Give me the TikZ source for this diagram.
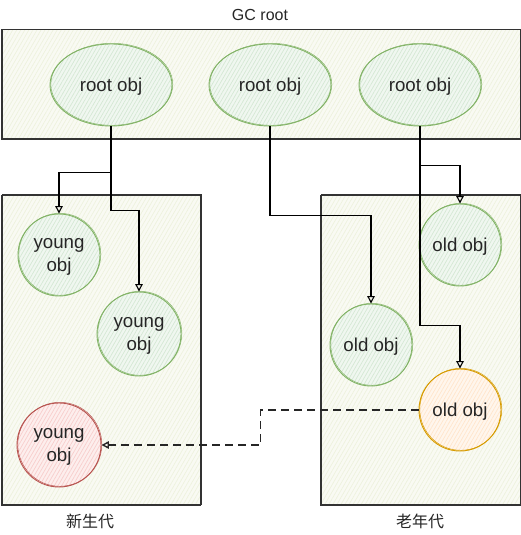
\documentclass[tikz,border=0pt]{standalone}
\usepackage{fontspec}
\setmainfont{Liberation Sans}
\newfontfamily\cjk{Noto Sans CJK SC}
\usetikzlibrary{shapes.geometric,arrows.meta,patterns.meta}
\definecolor{gstroke}{HTML}{82B366}
\definecolor{gfill}{HTML}{D5E8D4}
\definecolor{rstroke}{HTML}{B85450}
\definecolor{rfill}{HTML}{F8CECC}
\definecolor{ostroke}{HTML}{D79B00}
\definecolor{ofill}{HTML}{FFE6CC}
\definecolor{boxfill}{HTML}{F9FAF3}
\definecolor{boxhatch}{HTML}{EEF2DE}
\tikzset{
  hatch/.style={preaction={fill=#1!35!white},pattern={Lines[angle=60,distance=3.2pt,line width=0.7pt]},pattern color=#1},
  sketch/.style={postaction={draw,transform canvas={shift={(0.8pt,0.7pt)}},line width=0.5pt}},
  area/.style={draw=black!80,line width=1pt,preaction={fill=boxfill},pattern={Lines[angle=60,distance=3.5pt,line width=0.7pt]},pattern color=boxhatch,sketch},
  objtext/.style={font=\fontsize{18.7}{23}\selectfont,align=center,text=black!85,inner sep=0pt,text depth=0pt},
  greenobj/.style={circle,draw=gstroke,line width=0.9pt,hatch=gfill,sketch,objtext},
  redobj/.style={circle,draw=rstroke,line width=0.9pt,hatch=rfill,sketch,objtext},
  orangeobj/.style={circle,draw=ostroke,line width=0.9pt,hatch=ofill,sketch,objtext},
  rootobj/.style={ellipse,draw=gstroke,line width=0.9pt,hatch=gfill,sketch,objtext,minimum width=122pt,minimum height=82pt},
  lbl/.style={font=\fontsize{16}{18}\selectfont,text=black!85,inner sep=0pt},
  arr/.style={draw=black,line width=1.1pt,-{Triangle[open,length=7.5pt,width=7.5pt]}},
  dasharr/.style={draw=black!85,line width=1.4pt,dash pattern=on 8pt off 5pt,-{Triangle[open,length=7.5pt,width=7.5pt]}}
}
\begin{document}
\begin{tikzpicture}[x=1pt,y=-1pt]
\useasboundingbox (0,0) rectangle (521,535);
\node[lbl] (gc) at (260,15) {GC root};
\node[area,minimum width=519pt,minimum height=109pt,inner sep=0pt] (top) at (260.5,84.5) {};
\node[area,minimum width=199pt,minimum height=310pt,inner sep=0pt] (young) at (100.5,350) {};
\node[area,minimum width=200pt,minimum height=310pt,inner sep=0pt] (old) at (420,350) {};
\node[lbl] (ylbl) at (90,521) {\cjk 新生代};
\node[lbl] (olbl) at (420,521) {\cjk 老年代};

\node[rootobj] (r1) at (111,85) {root obj};
\node[rootobj] (r2) at (270,85) {root obj};
\node[rootobj] (r3) at (420,85) {root obj};

\node[greenobj,minimum size=82pt] (y1) at (59,255) {young\\obj};
\node[greenobj,minimum size=84pt] (y2) at (139,334) {young\\obj};
\node[redobj,minimum size=84pt] (yr) at (59,445) {young\\obj};
\node[greenobj,minimum size=82pt] (o1) at (460,245) {old obj};
\node[greenobj,minimum size=82pt] (o2) at (371,345) {old obj};
\node[orangeobj,minimum size=82pt] (oo) at (460,410) {old obj};

\draw[arr] (r1.south) -- ++(0,46) -| (y1.north);
\draw[arr] (r1.south) -- ++(0,84) -| (y2.north);
\draw[arr] (r2.south) -- ++(0,89) -| (o2.north);
\draw[arr] (r3.south) -- ++(0,39) -| (o1.north);
\draw[arr] (r3.south) -- ++(0,199) -| (oo.north);
\draw[dasharr] (oo.west) -- ++(-158,0) |- (yr.east);
\end{tikzpicture}
\end{document}
